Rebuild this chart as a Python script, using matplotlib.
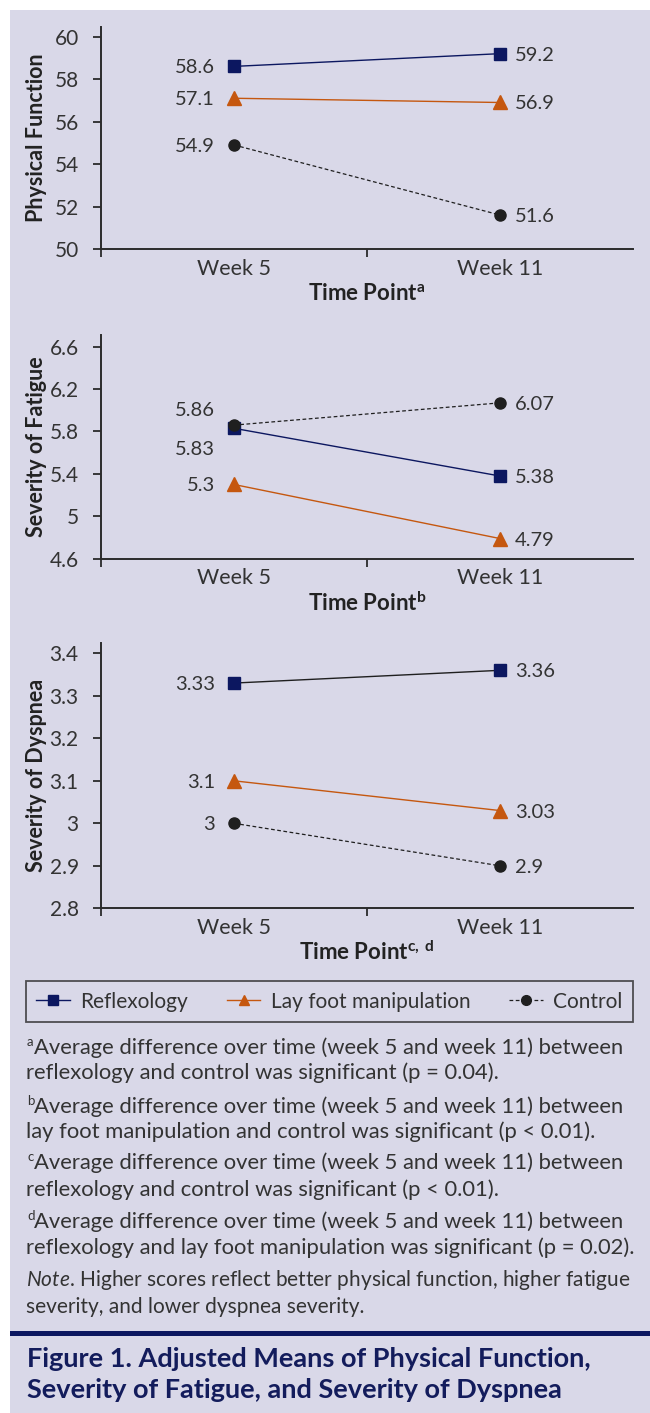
import matplotlib
matplotlib.use("Agg")
import matplotlib.pyplot as plt
from matplotlib.patches import Rectangle
from matplotlib.ticker import FuncFormatter, FixedLocator
import numpy as np

plt.rcParams['font.family'] = ['Lato', 'DejaVu Sans']
plt.rcParams['mathtext.fontset'] = 'custom'
plt.rcParams['mathtext.rm'] = 'Lato'
plt.rcParams['mathtext.it'] = 'Lato:italic'
plt.rcParams['mathtext.bf'] = 'Lato:bold'

# ---- data ----
weeks = ["Week 5", "Week 11"]
series_names = ["Reflexology", "Lay foot manipulation", "Control"]

pf_reflex = [58.6, 59.2]
pf_lay = [57.1, 56.9]
pf_control = [54.9, 51.6]

fat_reflex = [5.83, 5.38]
fat_lay = [5.3, 4.79]
fat_control = [5.86, 6.07]

dys_reflex = [3.33, 3.36]
dys_lay = [3.1, 3.03]
dys_control = [3.0, 2.9]

pf_ticks = [50, 52, 54, 56, 58, 60]
fat_ticks = [4.6, 5.0, 5.4, 5.8, 6.2, 6.6]
dys_ticks = [2.8, 2.9, 3.0, 3.1, 3.2, 3.3, 3.4]

footnotes = [
    ("a", ["Average difference over time (week 5 and week 11) between",
           "reflexology and control was significant (p = 0.04)."]),
    ("b", ["Average difference over time (week 5 and week 11) between",
           "lay foot manipulation and control was significant (p < 0.01)."]),
    ("c", ["Average difference over time (week 5 and week 11) between",
           "reflexology and control was significant (p < 0.01)."]),
    ("d", ["Average difference over time (week 5 and week 11) between",
           "reflexology and lay foot manipulation was significant (p = 0.02)."]),
]
note_lines = [r"$\mathit{Note}$. Higher scores reflect better physical function, higher fatigue",
              "severity, and lower dyspnea severity."]
title_lines = ["Figure 1. Adjusted Means of Physical Function,",
               "Severity of Fatigue, and Severity of Dyspnea"]

# ---- style ----
LAV = "#d9d8e8"
NAVY = "#0c1760"
ORANGE = "#c5570f"
BLACK = "#1f1f1f"
TXT = "#333333"

W, H = 650, 1413
fig = plt.figure(figsize=(W / 100, H / 100), dpi=100)
fig.patch.set_facecolor("white")
fig.add_artist(Rectangle((10 / W, 0), 1, (H - 10) / H, transform=fig.transFigure,
                         facecolor=LAV, edgecolor="none", zorder=-10))
fig.add_artist(Rectangle((10 / W, 1 - 1336 / H), 1, 5.5 / H, transform=fig.transFigure,
                         facecolor=NAVY, edgecolor="none", zorder=-9))


def fy(y):
    return 1 - y / H


def make_panel(top, bottom, ylim, ticks, ylabel, xlabel, reflex, lay, control,
               reflex_line=NAVY, offsets=None):
    left, right = 101, 633
    ax = fig.add_axes([left / W, fy(bottom), (right - left) / W, (bottom - top) / H])
    ax.set_facecolor("none")
    x = np.array([1, 2])
    l1, = ax.plot(x, reflex, color=reflex_line, lw=1.0, marker="s", ms=9,
                  mfc=NAVY, mec=NAVY, label=series_names[0], zorder=3)
    l2, = ax.plot(x, lay, color=ORANGE, lw=1.0, marker="^", ms=10,
                  mfc=ORANGE, mec=ORANGE, label=series_names[1], zorder=3)
    l3, = ax.plot(x, control, color=BLACK, lw=0.9, ls=(0, (3, 2)), marker="o", ms=8,
                  mfc=BLACK, mec=BLACK, label=series_names[2], zorder=4)

    offsets = offsets or {}
    for name, vals in zip(series_names, [reflex, lay, control]):
        dy = offsets.get(name, 0)
        ax.annotate(f"{vals[0]:g}", (1, vals[0]), xytext=(-19, dy), textcoords="offset pixels",
                    ha="right", va="center_baseline", fontsize=14.5, color=TXT)
        ax.annotate(f"{vals[1]:g}", (2, vals[1]), xytext=(15, 0), textcoords="offset pixels",
                    ha="left", va="center_baseline", fontsize=14.5, color=TXT)

    ax.set_xlim(0.5, 2.5)
    ax.set_ylim(*ylim)
    ax.set_xticks([1, 2])
    ax.set_xticklabels(weeks)
    ax.xaxis.set_minor_locator(FixedLocator([0.5, 1.5]))
    ax.tick_params(axis="x", which="major", length=0, pad=7, labelsize=15.5, labelcolor=TXT)
    ax.tick_params(axis="x", which="minor", length=6, width=1.3, color="#2b2b2b")
    ax.set_yticks(ticks)
    ax.yaxis.set_major_formatter(FuncFormatter(lambda v, p: f"{round(v, 2):g}"))
    ax.tick_params(axis="y", length=6, width=1.3, color="#2b2b2b", pad=10,
                   labelsize=15, labelcolor=TXT)
    for s in ["top", "right"]:
        ax.spines[s].set_visible(False)
    for s in ["left", "bottom"]:
        ax.spines[s].set_color("#2b2b2b")
        ax.spines[s].set_linewidth(1.4)

    ax.set_ylabel(ylabel, fontsize=15.5, fontweight="bold", color="#222222")
    ax.yaxis.set_label_coords((37 - left) / (right - left), 0.5)
    ax.yaxis.label.set_va("center")
    ax.set_xlabel(xlabel, fontsize=16, fontweight="bold", color="#222222")
    ax.xaxis.set_label_coords(0.5, -44 / (bottom - top))
    ax.xaxis.label.set_va("center")
    return ax, [l1, l2, l3]


ax1, handles = make_panel(26.7, 249, (50, 60.47), pf_ticks, "Physical Function",
                          r"Time Point$^{\mathregular{a}}$", pf_reflex, pf_lay, pf_control)
ax2, _ = make_panel(335, 558.7, (4.6, 6.71), fat_ticks, "Severity of Fatigue",
                    r"Time Point$^{\mathregular{b}}$", fat_reflex, fat_lay, fat_control,
                    offsets={"Control": 16, "Reflexology": -20})
ax3, _ = make_panel(642.7, 908.3, (2.8, 3.425), dys_ticks, "Severity of Dyspnea",
                    r"Time Point$^{\mathregular{c,\ d}}$", dys_reflex, dys_lay, dys_control,
                    reflex_line=BLACK)

# legend box
leg = fig.legend(handles, series_names, ncol=3, loc="lower left",
                 bbox_to_anchor=(26 / W, fy(1022), (633 - 26) / W, 46 / H),
                 mode="expand", fontsize=15, handlelength=1.6, handletextpad=0.5,
                 borderpad=0.5, borderaxespad=0, fancybox=False, frameon=True,
                 labelcolor=TXT)
leg.get_frame().set_edgecolor("#2b2b2b")
leg.get_frame().set_linewidth(1.3)
leg.get_frame().set_facecolor("none")
for h in leg.legend_handles:
    h.set_markersize(7)

# footnotes
y_lines = [1048, 1073, 1107, 1132, 1163, 1190, 1222, 1248]
k = 0
for letter, lines in footnotes:
    fig.text(27 / W, fy(y_lines[k] - 6), letter, fontsize=9.5, color=TXT, va="center")
    fig.text(34 / W, fy(y_lines[k]), lines[0], fontsize=15.8, color=TXT, va="center")
    fig.text(26 / W, fy(y_lines[k + 1]), lines[1], fontsize=15.8, color=TXT, va="center")
    k += 2
fig.text(26 / W, fy(1280), note_lines[0], fontsize=15, color=TXT, va="center")
fig.text(26 / W, fy(1307), note_lines[1], fontsize=15, color=TXT, va="center")

# title
fig.text(26.7 / W, fy(1366.7), title_lines[0], fontsize=19.5, fontweight="bold",
         color="#131c5c", va="baseline")
fig.text(26.7 / W, fy(1398.5), title_lines[1], fontsize=19.5, fontweight="bold",
         color="#131c5c", va="baseline")

fig.savefig("out.png", dpi=100, facecolor=fig.get_facecolor())
